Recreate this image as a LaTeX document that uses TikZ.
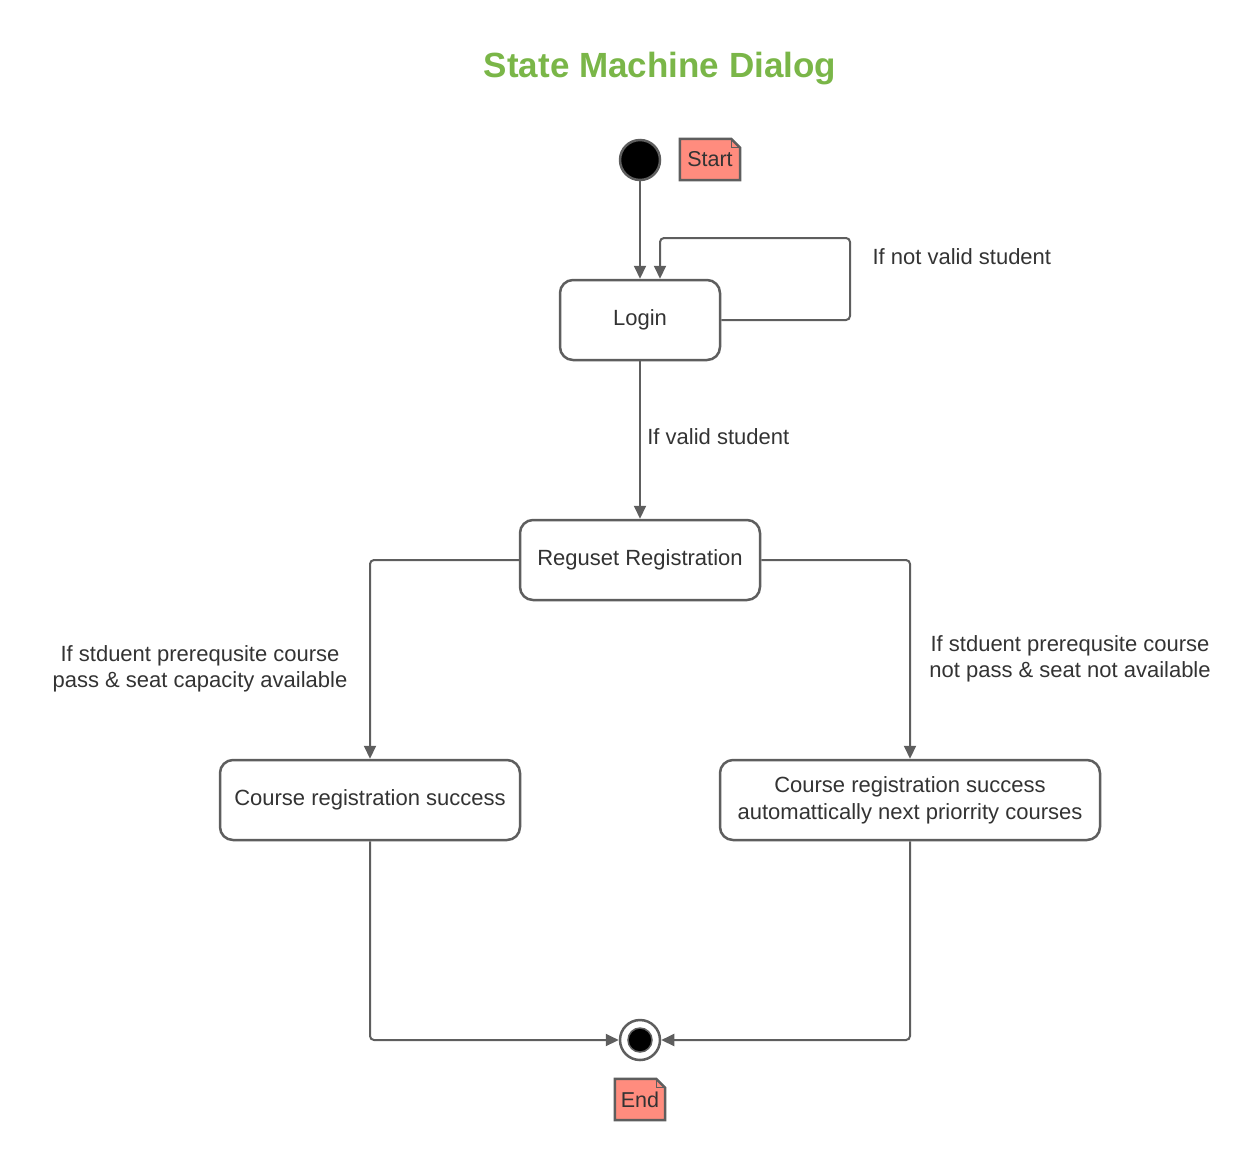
\documentclass[tikz,border=0pt]{standalone}
\usepackage{fontspec}
\setmainfont{Liberation Sans}
\usetikzlibrary{arrows.meta}
\definecolor{linegray}{HTML}{5E5E5E}
\definecolor{notered}{HTML}{FF8C7E}
\definecolor{titlegreen}{HTML}{7AB648}
\definecolor{textgray}{HTML}{333333}

\begin{document}
\begin{tikzpicture}[x=1pt,y=-1pt,>={Triangle[length=13pt,width=12pt]},
  state node/.style={draw=linegray,line width=2.5pt,rounded corners=13pt,fill=white,
    minimum height=80pt,align=center,text=textgray,font=\fontsize{22}{27}\selectfont},
  note node/.style={fill=notered,inner sep=0pt,minimum height=41pt,text=textgray,
    font=\fontsize{21.5}{25}\selectfont},
  label node/.style={align=center,text=textgray,font=\fontsize{22}{26}\selectfont},
  flow/.style={->,draw=linegray,line width=2pt,rounded corners=4pt}]

  \useasboundingbox (0,0) rectangle (1260,1160);

  \node[text=titlegreen,font=\fontsize{35}{40}\selectfont\bfseries] (title) at (660,69) {State Machine Dialog};

  % initial and final states
  \node[circle,draw=linegray,line width=2.5pt,fill=black,minimum size=40pt,inner sep=0pt] (start) at (640,160) {};
  \node[circle,draw=linegray,line width=2.5pt,fill=white,minimum size=40pt,inner sep=0pt] (end) at (640,1040) {};
  \node[circle,draw=linegray,line width=1.5pt,fill=black,minimum size=24pt,inner sep=0pt] (enddot) at (end.center) {};

  % notes
  \node[note node,minimum width=60pt] (startnote) at (710,159.5) {Start};
  \node[note node,minimum width=50pt] (endnote) at (640,1099.5) {End};
  \foreach \n in {startnote,endnote} {
    \fill[white] ([xshift=-9pt]\n.north east) -- (\n.north east) -- ([yshift=-9pt]\n.north east) -- cycle;
    \draw[linegray,line width=2.5pt,line join=miter] (\n.north west) -- ([xshift=-9pt]\n.north east)
      -- ([yshift=-9pt]\n.north east) -- (\n.south east) -- (\n.south west) -- cycle;
    \draw[linegray,line width=1pt] ([xshift=-9pt]\n.north east) -- ([xshift=-9pt,yshift=-9pt]\n.north east)
      -- ([yshift=-9pt]\n.north east);
  }

  % states
  \node[state node,minimum width=160pt] (login) at (640,320) {Login};
  \node[state node,minimum width=240pt] (request) at (640,560) {Reguset Registration};
  \node[state node,minimum width=300pt] (success) at (370,800) {Course registration success};
  \node[state node,minimum width=380pt] (priority) at (910,800) {Course registration success\\automattically next priorrity courses};

  % transitions
  \coordinate (loopcorner) at (850,238);
  \draw[flow] (start) -- (login);
  \draw[flow] (login.east) -| (loopcorner) -| ([xshift=20pt]login.north);
  \node[label node,anchor=west] (notvalid) at (869,257) {If not valid student};
  \draw[flow] (login) -- (request) node[label node,pos=0.48,anchor=west,xshift=3pt] (valid) {If valid student};
  \draw[flow] (request.west) -| (success.north);
  \draw[flow] (request.east) -| (priority.north);
  \node[label node] (passlabel) at (200,669) {If stduent prerequsite course\\pass \& seat capacity available};
  \node[label node] (failabel) at (1070,659) {If stduent prerequsite course\\not pass \& seat not available};
  \draw[flow] (success.south) |- (end.west);
  \draw[flow] (priority.south) |- (end.east);

\end{tikzpicture}
\end{document}
